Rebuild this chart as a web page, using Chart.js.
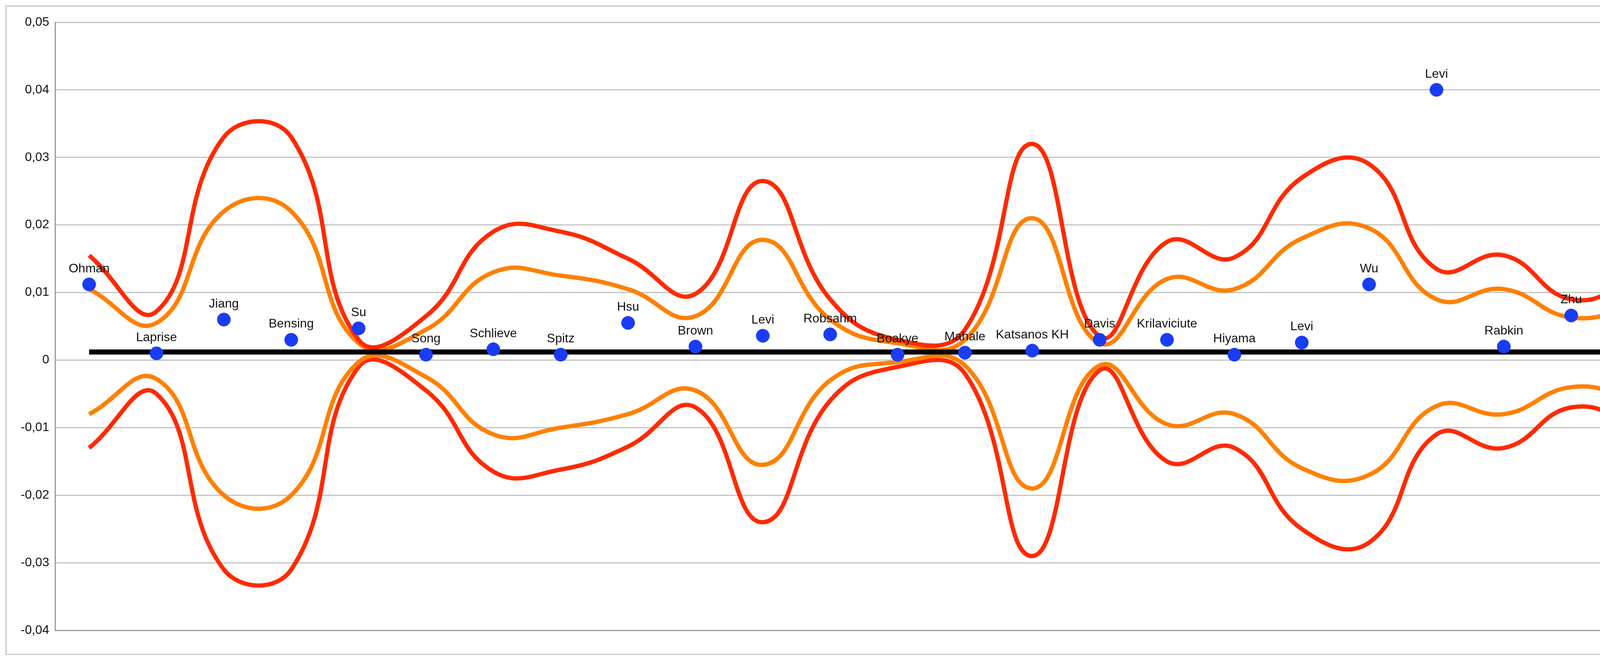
<!DOCTYPE html>
<html><head><meta charset="utf-8">
<script src="https://cdn.jsdelivr.net/npm/chart.js@4/dist/chart.umd.min.js"></script>
<style>
html,body{margin:0;padding:0;background:#fff;overflow:hidden;}
#wrap{position:absolute;left:14px;top:14px;width:4330px;height:1662px;border:3px solid #c8c8c8;box-sizing:border-box;}
canvas{display:block;}
</style></head><body>
<div id="wrap"><canvas id="c" width="4324" height="1656"></canvas></div>
<script>
// Study names and effect values
const names = ['Ohman','Laprise','Jiang','Bensing','Su','Song','Schlieve','Spitz','Hsu','Brown','Levi','Robsahm',
  'Boakye','Mahale','Katsanos KH','Davis','Krilaviciute','Hiyama','Levi','Wu','Levi','Rabkin','Zhu','Chuang'];
const points = [0.0112,0.001,0.006,0.003,0.0047,0.0008,0.0016,0.0008,0.0055,0.002,0.0036,0.0038,
  0.0008,0.0011,0.0014,0.003,0.003,0.0008,0.0026,0.0112,0.040,0.002,0.0066,0.0017];
const pooled = names.map(() => 0.0012);
const redUpper = [0.0155,0.0072,0.033,0.033,0.003,0.0065,0.019,0.019,0.015,0.0098,0.0265,0.009,
  0.003,0.0045,0.032,0.0035,0.0175,0.0152,0.027,0.029,0.0135,0.0155,0.009,0.0118];
const orangeUpper = [0.0105,0.0055,0.022,0.022,0.0025,0.0045,0.013,0.0125,0.0105,0.0065,0.0178,0.006,
  0.0025,0.003,0.021,0.0025,0.012,0.0105,0.018,0.0195,0.009,0.0105,0.0063,0.008];
const orangeLower = [-0.008,-0.0028,-0.020,-0.020,-0.0003,-0.0025,-0.011,-0.010,-0.008,-0.0045,-0.0155,-0.003,
  -0.0003,-0.0008,-0.019,-0.0008,-0.0095,-0.008,-0.016,-0.017,-0.0068,-0.008,-0.004,-0.0057];
const redLower = [-0.013,-0.005,-0.031,-0.031,-0.001,-0.0045,-0.0165,-0.0162,-0.0128,-0.007,-0.024,-0.006,
  -0.001,-0.002,-0.029,-0.0015,-0.015,-0.013,-0.025,-0.027,-0.011,-0.013,-0.007,-0.0095];

const RED = '#ff2a00', ORANGE = '#ff8000';

function band(data, color) {
    return { type: 'line', data: data, borderColor: color, borderWidth: 11, pointRadius: 0,
             tension: 0.45, fill: false, order: 2 };
}

// draws study names above the blue points
const pointLabels = {
    id: 'pointLabels',
    afterDatasetsDraw(chart) {
        const meta = chart.getDatasetMeta(0);
        const ctx = chart.ctx;
        ctx.save();
        ctx.font = '32px "Liberation Sans", Arial, sans-serif';
        ctx.fillStyle = '#111';
        ctx.textAlign = 'center';
        ctx.textBaseline = 'bottom';
        meta.data.forEach((el, i) => ctx.fillText(names[i], el.x, el.y - 24));
        ctx.restore();
    }
};

new Chart(document.getElementById('c'), {
    data: {
        labels: names,
        datasets: [
            { type: 'line', data: points, showLine: false, pointRadius: 17, pointHoverRadius: 17,
              pointBackgroundColor: '#1a3cf5', pointBorderColor: '#1a3cf5', order: 0 },
            { type: 'line', data: pooled, borderColor: '#000', borderWidth: 13, pointRadius: 0, order: 1 },
            band(redUpper, RED), band(orangeUpper, ORANGE), band(orangeLower, ORANGE), band(redLower, RED)
        ]
    },
    options: {
        responsive: false, devicePixelRatio: 1, animation: false,
        layout: { padding: { top: 40, right: 60, bottom: 60, left: 20 } },
        plugins: { legend: { display: false }, tooltip: { enabled: false } },
        scales: {
            x: { offset: true, grid: { display: false, drawTicks: false },
                 border: { color: '#999', width: 3 }, ticks: { display: false } },
            y: { min: -0.04, max: 0.05,
                 ticks: { stepSize: 0.01, padding: 16, font: { size: 32, family: '"Liberation Sans", Arial' }, color: '#111',
                          callback: v => (Math.round(v * 100) / 100).toString().replace('.', ',') },
                 grid: { color: '#c4c4c4', lineWidth: 3, drawTicks: false },
                 border: { color: '#999', width: 3 } }
        }
    },
    plugins: [pointLabels]
});
</script>
</body></html>
